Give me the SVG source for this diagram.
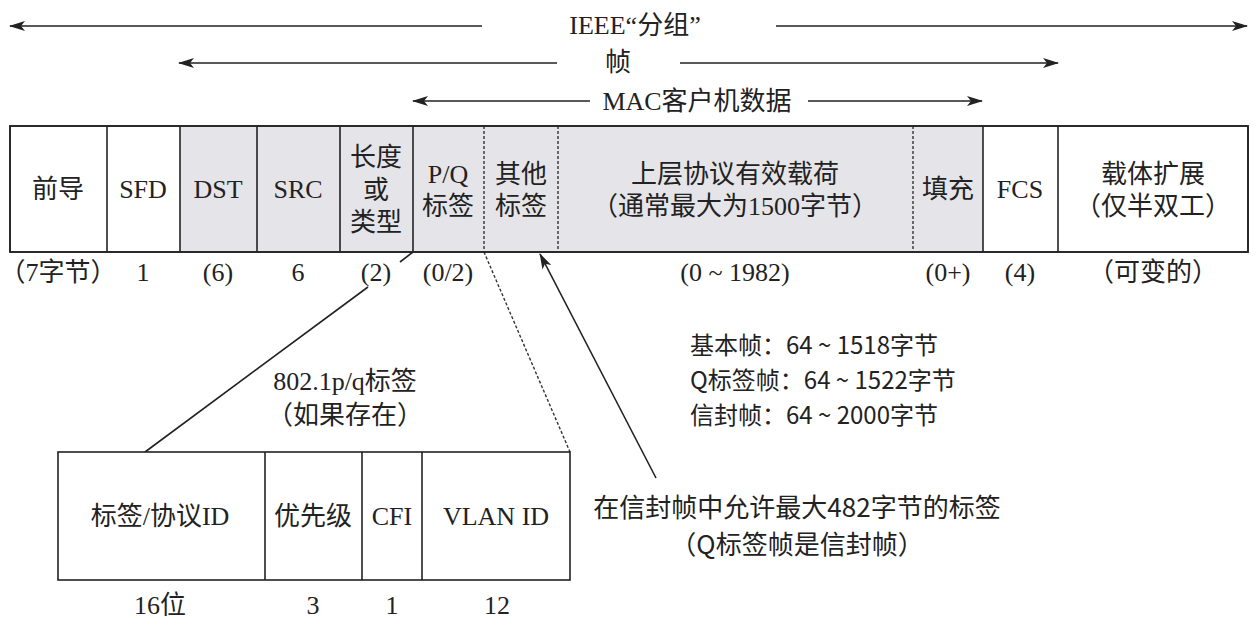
<svg xmlns="http://www.w3.org/2000/svg" width="1260" height="625" viewBox="0 0 1260 625">
<defs>
<marker id="ah" viewBox="0 0 16 10" refX="15" refY="5" markerWidth="16" markerHeight="10" markerUnits="userSpaceOnUse" orient="auto">
<path d="M0,0 L16,5 L0,10 L4,5 Z" fill="#222"/>
</marker>
<style>
text{font-family:"Liberation Serif","Noto Sans CJK SC",serif;font-size:26px;fill:#222;text-anchor:middle;dominant-baseline:central}
.sans{font-family:"Noto Sans CJK SC","Liberation Sans",sans-serif;font-size:24px}
.note{font-size:26px}
.left{text-anchor:start}
.box{fill:#fff;stroke:#222;stroke-width:1.6}
.gray{fill:#e5e5e9;stroke:none}
.div{stroke:#222;stroke-width:1.6}
.dash{stroke:#333;stroke-width:1.4;stroke-dasharray:3 2}
.ln{stroke:#222;stroke-width:1.6;fill:none}
</style>
</defs>
<rect width="1260" height="625" fill="#fff"/>
<g id="connectors">
<line class="ln" x1="482" y1="26" x2="10" y2="26" marker-end="url(#ah)"/>
<line class="ln" x1="776" y1="26" x2="1247" y2="26" marker-end="url(#ah)"/>
<line class="ln" x1="557" y1="63" x2="179" y2="63" marker-end="url(#ah)"/>
<line class="ln" x1="680" y1="63" x2="1058" y2="63" marker-end="url(#ah)"/>
<line class="ln" x1="590" y1="101" x2="413" y2="101" marker-end="url(#ah)"/>
<line class="ln" x1="808" y1="101" x2="982" y2="101" marker-end="url(#ah)"/>
<line class="ln" x1="413" y1="252" x2="400" y2="262"/>
<line class="ln" x1="368" y1="287" x2="145" y2="452"/>
<line class="dash" x1="484" y1="252" x2="570" y2="452"/>
<line class="ln" x1="656" y1="478" x2="540" y2="254" marker-end="url(#ah)"/>
</g>
<g id="headers">
<text x="635" y="25">IEEE“分组”</text>
<text x="618" y="62">帧</text>
<text x="697" y="101">MAC客户机数据</text>
</g>
<g id="frame">
<rect class="box" x="10" y="126" width="1238" height="126"/>
<rect class="gray" x="180" y="127" width="803" height="124"/>
<line class="div" x1="107" y1="126" x2="107" y2="252"/>
<line class="div" x1="180" y1="126" x2="180" y2="252"/>
<line class="div" x1="257" y1="126" x2="257" y2="252"/>
<line class="div" x1="340" y1="126" x2="340" y2="252"/>
<line class="div" x1="413" y1="126" x2="413" y2="252" stroke-width="2.2"/>
<line class="dash" x1="484" y1="126" x2="484" y2="252"/>
<line class="dash" x1="558" y1="126" x2="558" y2="252"/>
<line class="dash" x1="913" y1="126" x2="913" y2="252"/>
<line class="div" x1="983" y1="126" x2="983" y2="252"/>
<line class="div" x1="1058" y1="126" x2="1058" y2="252"/>
<rect x="10" y="126" width="1238" height="126" fill="none" stroke="#222" stroke-width="1.6"/>
</g>
<g id="f-preamble"><text x="58" y="189">前导</text><text x="58" y="272">（7字节）</text></g>
<g id="f-sfd"><text x="143" y="189">SFD</text><text x="143" y="272">1</text></g>
<g id="f-dst"><text x="218" y="189">DST</text><text x="218" y="272">(6)</text></g>
<g id="f-src"><text x="298" y="189">SRC</text><text x="298" y="272">6</text></g>
<g id="f-len"><text x="376" y="157">长度</text><text x="376" y="190">或</text><text x="376" y="222">类型</text><text x="376" y="272">(2)</text></g>
<g id="f-pq"><text x="448" y="174">P/Q</text><text x="448" y="206">标签</text><text x="448" y="272">(0/2)</text></g>
<g id="f-other"><text x="521" y="174">其他</text><text x="521" y="206">标签</text></g>
<g id="f-payload"><text x="735" y="174">上层协议有效载荷</text><text x="735" y="206">（通常最大为1500字节）</text><text x="735" y="272">(0 ~ 1982)</text></g>
<g id="f-pad"><text x="948" y="189">填充</text><text x="948" y="272">(0+)</text></g>
<g id="f-fcs"><text x="1020" y="189">FCS</text><text x="1020" y="272">(4)</text></g>
<g id="f-ext"><text x="1153" y="174">载体扩展</text><text x="1153" y="206">（仅半双工）</text><text x="1153" y="272">（可变的）</text></g>
<g id="tag-title"><text x="345" y="381">802.1p/q标签</text><text x="345" y="415">（如果存在）</text></g>
<g id="tag">
<rect class="box" x="58" y="452" width="512" height="128"/>
<line class="div" x1="265" y1="452" x2="265" y2="580"/>
<line class="div" x1="362" y1="452" x2="362" y2="580"/>
<line class="div" x1="422" y1="452" x2="422" y2="580"/>
</g>
<g id="t-tpid"><text x="160" y="516">标签/协议ID</text><text x="160" y="605">16位</text></g>
<g id="t-pri"><text x="313" y="516">优先级</text><text x="313" y="605">3</text></g>
<g id="t-cfi"><text x="392" y="516">CFI</text><text x="392" y="605">1</text></g>
<g id="t-vid"><text x="496" y="516">VLAN ID</text><text x="497" y="605">12</text></g>
<g id="sizes">
<text class="sans left" x="690" y="343">基本帧：64 ~ 1518字节</text>
<text class="sans left" x="690" y="378">Q标签帧：64 ~ 1522字节</text>
<text class="sans left" x="690" y="413">信封帧：64 ~ 2000字节</text>
</g>
<g id="note">
<text class="sans note" x="797" y="505">在信封帧中允许最大482字节的标签</text>
<text class="sans note" x="797" y="542">（Q标签帧是信封帧）</text>
</g>
</svg>
